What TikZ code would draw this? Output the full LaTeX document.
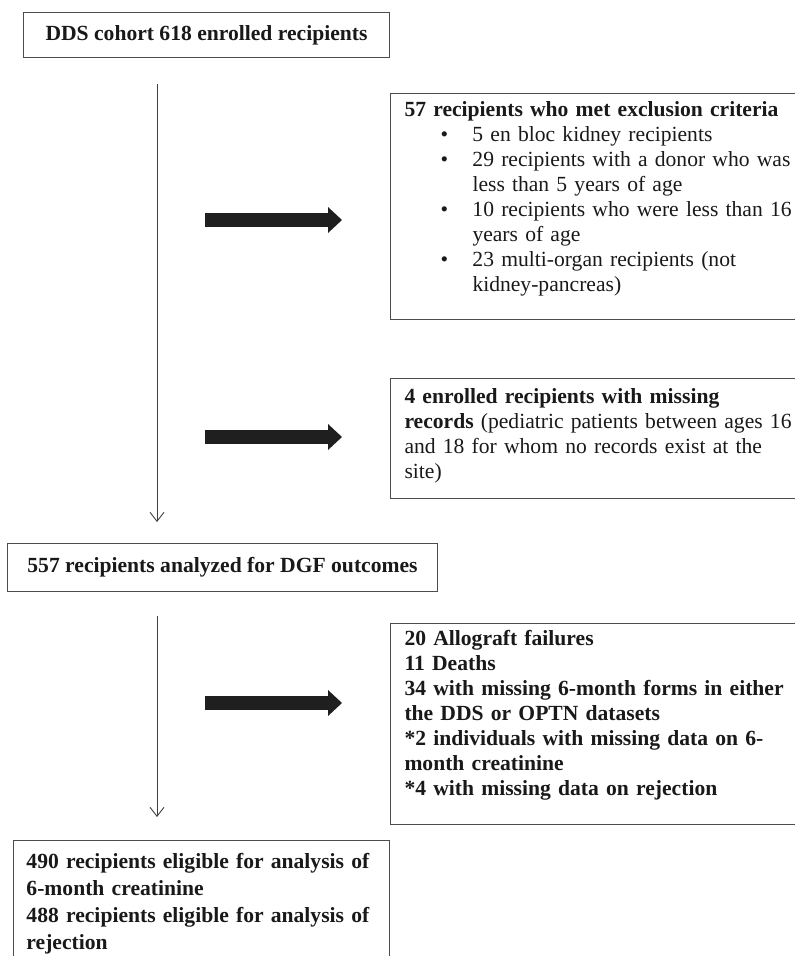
\documentclass[tikz,border=0pt]{standalone}
\usepackage{fontspec}
\setmainfont{Liberation Serif}
\usetikzlibrary{positioning, arrows.meta}

\newcommand{\critem}{\hspace*{36pt}\makebox[32pt][l]{\textbullet}}
\newcommand{\crcont}{\hspace*{68pt}}

\begin{document}
\begin{tikzpicture}[x=1pt, y=-1pt,
    box/.style={draw=black!70, line width=1pt, text=black!90, inner xsep=14pt, inner ysep=0pt,
        align=left, anchor=north west, font=\fontsize{21.6}{25}\selectfont},
    flow/.style={draw=black!75, line width=0.9pt, -{Straight Barb[length=9pt, width=14pt]}},
    fat/.style={draw=black!88, line width=14pt, -{Triangle[length=14pt, width=26pt, line width=0pt]}}]
    \useasboundingbox (0,0) rectangle (795,956);
    \clip (0,0) rectangle (795,956);

    % main column
    \node[box, align=center, minimum width=366pt, minimum height=45pt, font=\fontsize{21.6}{25}\selectfont\bfseries] (cohort) at (23,12) {DDS cohort 618 enrolled recipients};
    \node[box, align=center, minimum width=430pt, minimum height=48pt, font=\fontsize{21.6}{25}\selectfont\bfseries] (analyzed) at (7,543) {557 recipients analyzed for DGF outcomes};
    \node[box, inner xsep=13pt, text width=350pt, font=\fontsize{21.6}{27}\selectfont\bfseries] (eligible) at (13,840) {\rule{0pt}{28pt}490 recipients eligible for analysis of\\
        6-month creatinine\\
        488 recipients eligible for analysis of\\
        rejection\rule[-40pt]{0pt}{40pt}};

    % side boxes
    \node[box, text width=395pt] (excl) at (390,93) {\rule{0pt}{23pt}\textbf{57 recipients who met exclusion criteria}\\
        \critem 5 en bloc kidney recipients\\
        \critem 29 recipients with a donor who was\\
        \crcont less than 5 years of age\\
        \critem 10 recipients who were less than 16\\
        \crcont years of age\\
        \critem 23 multi-organ recipients (not\\
        \crcont kidney-pancreas)\rule[-28pt]{0pt}{28pt}};
    \node[box, text width=395pt] (missing) at (390,378) {\rule{0pt}{25pt}\textbf{4 enrolled recipients with missing}\\
        \textbf{records} (pediatric patients between ages 16\\
        and 18 for whom no records exist at the\\
        site)\rule[-20pt]{0pt}{20pt}};
    \node[box, text width=395pt, font=\fontsize{21.6}{25}\selectfont\bfseries] (lost) at (390,623) {\rule{0pt}{22pt}20 Allograft failures\\
        11 Deaths\\
        34 with missing 6-month forms in either\\
        the DDS or OPTN datasets\\
        {*}2 individuals with missing data on 6-\\
        month creatinine\\
        {*}4 with missing data on rejection\rule[-29pt]{0pt}{29pt}};

    \coordinate (spine) at (157,0);
    \coordinate (t1) at (205,220);
    \coordinate (t2) at (205,437);
    \coordinate (t3) at (205,703);

    \draw[flow, shorten <=26pt, shorten >=21pt] (cohort.south -| spine) -- (analyzed.north -| spine);
    \draw[flow, shorten <=24pt, shorten >=23pt] (analyzed.south -| spine) -- (eligible.north -| spine);

    \draw[fat, shorten >=48pt] (t1) -- (excl.west |- t1);
    \draw[fat, shorten >=48pt] (t2) -- (missing.west |- t2);
    \draw[fat, shorten >=48pt] (t3) -- (lost.west |- t3);
\end{tikzpicture}
\end{document}
